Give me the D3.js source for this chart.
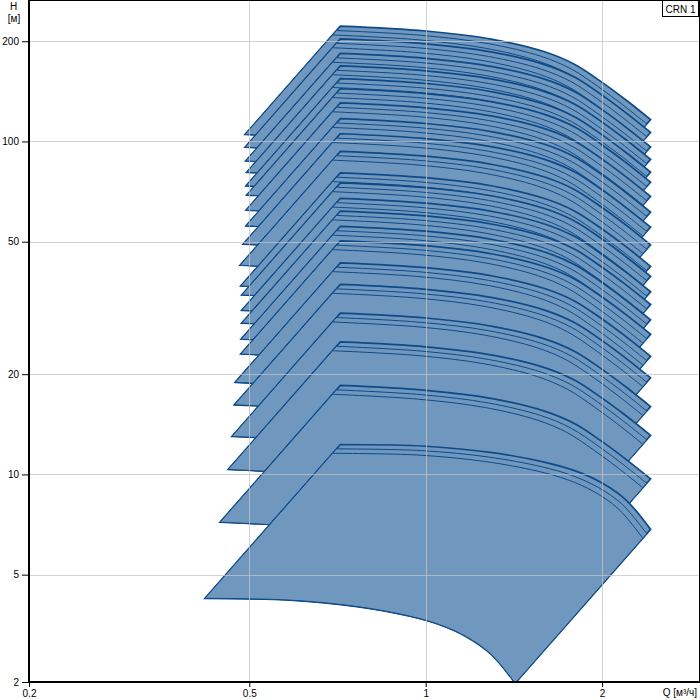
<!DOCTYPE html>
<html><head><meta charset="utf-8">
<script src="https://cdn.jsdelivr.net/npm/d3@7"></script>
<style>
body{margin:0;background:#fff}
svg{display:block}
text{font-family:"Liberation Sans",Arial,sans-serif;font-size:10px;fill:#000}
</style>
</head><body><svg id="c" width="700" height="700"></svg>
<script>
// ---- data ----
const stages = [2,3,4,5,6,7,8,9,10,11,12,13,15,17,19,21,23,25,27,30,33,36];
const shutoffHead = [12.3,18.5,25.0,30.5,37.2,43.2,50.3,55.6,61.8,67.5,75.1,80.5,93.4,105.5,117.1,130.5,144.0,154.4,168.6,183.8,203.2,222.0];
const minSpeedFlow = [0.420,0.4457,0.460,0.467,0.4716,0.473,0.4835,0.4841,0.4854,0.4854,0.4854,0.4835,0.4822,0.488,0.4936,0.4936,0.495,0.4936,0.495,0.4931,0.4917,0.4917];
const curveFlow = [0.715,1.0,1.3,1.6,1.8,2.0,2.2,2.42];
const headRatioSmall = [1,0.988,0.945,0.884,0.833,0.766,0.68,0.556];
const headRatioLarge = [1,0.967,0.913,0.836,0.766,0.678,0.599,0.524];
const variantSpeed = [1,0.985,0.97];
const xDomain = [0.2104,2.927];
const yDomain = [2.38,266];
const xTicks = [0.2104,0.5,1,2];
const xTickLabels = ["0.2","0.5","1","2"];
const yTicks = [2.38,5,10,20,50,100,200];
const yTickLabels = ["2","5","10","20","50","100","200"];
const xGrid = [0.5,1,2];
const yGrid = [5,10,20,50,100,200];
const titleText = "CRN 1";

// ---- drawing ----
const svg = d3.select("#c");
const L = 29, R = 699, T = 0, B = 682;
const x = d3.scaleLog().domain(xDomain).range([L,R]);
const y = d3.scaleLog().domain(yDomain).range([B,T]);

svg.append("defs").append("clipPath").attr("id","plot")
  .append("rect").attr("x",L).attr("y",T).attr("width",R-L).attr("height",B-T);

const g = svg.append("g").attr("clip-path","url(#plot)");
const line = d3.line().curve(d3.curveCatmullRom.alpha(0.5));

for (let i = stages.length-1; i >= 0; i--) {
  const ratios = stages[i] === 2 ? headRatioSmall : headRatioLarge;
  const s = minSpeedFlow[i] / curveFlow[0];
  variantSpeed.forEach((sv, v) => {
    const top = curveFlow.map((q,k) => [x(q*sv), y(shutoffHead[i]*ratios[k]*sv*sv)]);
    const bot = curveFlow.map((q,k) => [x(q*s), y(shutoffHead[i]*ratios[k]*s*s)]).reverse();
    const d = line(top) + "L" + line(bot).slice(1) + "Z";
    g.append("path").attr("d", d)
      .attr("fill","#7098be")
      .attr("stroke","#0e4a88")
      .attr("stroke-width", v === 0 ? 1.7 : 1)
      .attr("stroke-linejoin","miter");
  });
}

// grid on top
const grid = svg.append("g").attr("stroke","#c4c4c4").attr("stroke-opacity",0.75).attr("stroke-width",1);
xGrid.forEach(v => grid.append("line").attr("x1",Math.round(x(v))+0.5).attr("x2",Math.round(x(v))+0.5).attr("y1",T).attr("y2",B));
yGrid.forEach(v => grid.append("line").attr("y1",Math.round(y(v))+0.5).attr("y2",Math.round(y(v))+0.5).attr("x1",L).attr("x2",R));

// axes
const ya = svg.append("g").attr("transform",`translate(${L},0)`)
  .call(d3.axisLeft(y).tickValues(yTicks).tickFormat((d,i)=>yTickLabels[i]).tickSize(7).tickPadding(3));
const xa = svg.append("g").attr("transform",`translate(0,${B})`)
  .call(d3.axisBottom(x).tickValues(xTicks).tickFormat((d,i)=>xTickLabels[i]).tickSize(5).tickPadding(3));
[ya,xa].forEach(a => {
  a.select(".domain").remove();
  a.selectAll(".tick line").attr("stroke","#000");
  a.selectAll(".tick text").attr("font-family","Liberation Sans, Arial, sans-serif").attr("font-size",10).attr("fill","#000");
});

// frame
svg.append("line").attr("x1",L).attr("x2",L).attr("y1",0).attr("y2",B+1).attr("stroke","#000").attr("stroke-width",2);
svg.append("line").attr("x1",L-1).attr("x2",700).attr("y1",B).attr("y2",B).attr("stroke","#000").attr("stroke-width",2);
svg.append("line").attr("x1",L).attr("x2",700).attr("y1",0.5).attr("y2",0.5).attr("stroke","#000").attr("stroke-width",1);
svg.append("line").attr("x1",699.5).attr("x2",699.5).attr("y1",0).attr("y2",B).attr("stroke","#000").attr("stroke-width",1);

// axis titles
svg.append("text").attr("x",13.5).attr("y",10).attr("text-anchor","middle").text("H");
svg.append("text").attr("x",14).attr("y",22).attr("text-anchor","middle").text("[м]");
svg.append("text").attr("x",697).attr("y",696).attr("text-anchor","end").text("Q [м³/ч]");

// title box
svg.append("rect").attr("x",662.5).attr("y",0.5).attr("width",36).attr("height",16).attr("fill","#fff").attr("stroke","#000");
svg.append("text").attr("x",680.5).attr("y",12.5).attr("text-anchor","middle").text(titleText);
</script>
</body></html>
